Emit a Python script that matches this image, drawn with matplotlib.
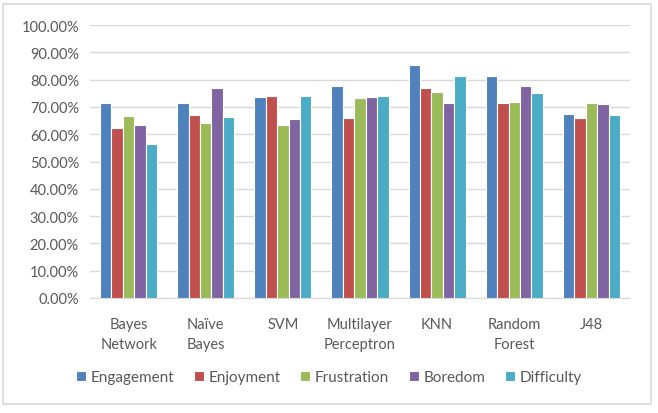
import matplotlib.pyplot as plt
import numpy as np
from matplotlib.patches import Rectangle
from matplotlib.ticker import FuncFormatter

plt.rcParams['font.family'] = ['Lato', 'DejaVu Sans']

categories = ['Bayes\nNetwork', 'Naïve\nBayes', 'SVM', 'Multilayer\nPerceptron',
              'KNN', 'Random\nForest', 'J48']
series = ['Engagement', 'Enjoyment', 'Frustration', 'Boredom', 'Difficulty']
engagement = [71.6, 71.6, 73.5, 77.8, 85.5, 81.3, 67.3]
enjoyment = [62.2, 67.1, 73.9, 65.9, 77.1, 71.3, 65.9]
frustration = [66.8, 64.1, 63.4, 73.2, 75.5, 71.9, 71.3]
boredom = [63.5, 76.8, 65.5, 73.5, 71.6, 77.6, 71.0]
difficulty = [56.3, 66.2, 73.9, 73.9, 81.3, 75.1, 67.1]
colors = ['#4F81BD', '#C0504D', '#9BBB59', '#8064A2', '#4BACC6']

values = [engagement, enjoyment, frustration, boredom, difficulty]

fig = plt.figure(figsize=(6.58, 4.14), dpi=100)
ax = fig.add_axes([90 / 658, 1 - 299 / 414, 540 / 658, 273 / 414])

# outer chart border
fig.patches.append(Rectangle((3 / 658, 1 - 405 / 414), 648 / 658, 400 / 414,
                             transform=fig.transFigure, fill=False,
                             edgecolor='#d9d9d9', linewidth=1.2))

x = np.arange(len(categories))
w = 0.148
for i, (name, vals) in enumerate(zip(series, values)):
    ax.bar(x + (i - 2) * w, vals, width=w, color=colors[i], edgecolor='white',
           linewidth=0.8, label=name, zorder=3)

ax.set_xlim(-0.5, len(categories) - 0.5)
ax.set_ylim(0, 100)
ax.set_yticks(np.arange(0, 101, 10))
ax.yaxis.set_major_formatter(FuncFormatter(lambda v, p: f'{v:.2f}%'))
ax.set_xticks(x)
ax.set_xticklabels(categories, linespacing=1.5)
ax.tick_params(axis='both', length=0, labelsize=10.5, colors='#595959')
ax.tick_params(axis='x', pad=14)
ax.tick_params(axis='y', pad=8)
ax.grid(axis='y', color='#d9d9d9', linewidth=1, zorder=0)
for s in ['top', 'right', 'left']:
    ax.spines[s].set_visible(False)
ax.spines['bottom'].set_color('#d9d9d9')

fig.legend(loc='center', bbox_to_anchor=(0.5, 1 - 378 / 414), ncol=5,
           frameon=False, fontsize=11, handlelength=0.65, handleheight=0.65,
           handletextpad=0.3, columnspacing=1.3, labelcolor='#595959')

plt.savefig('out.png', dpi=100)
